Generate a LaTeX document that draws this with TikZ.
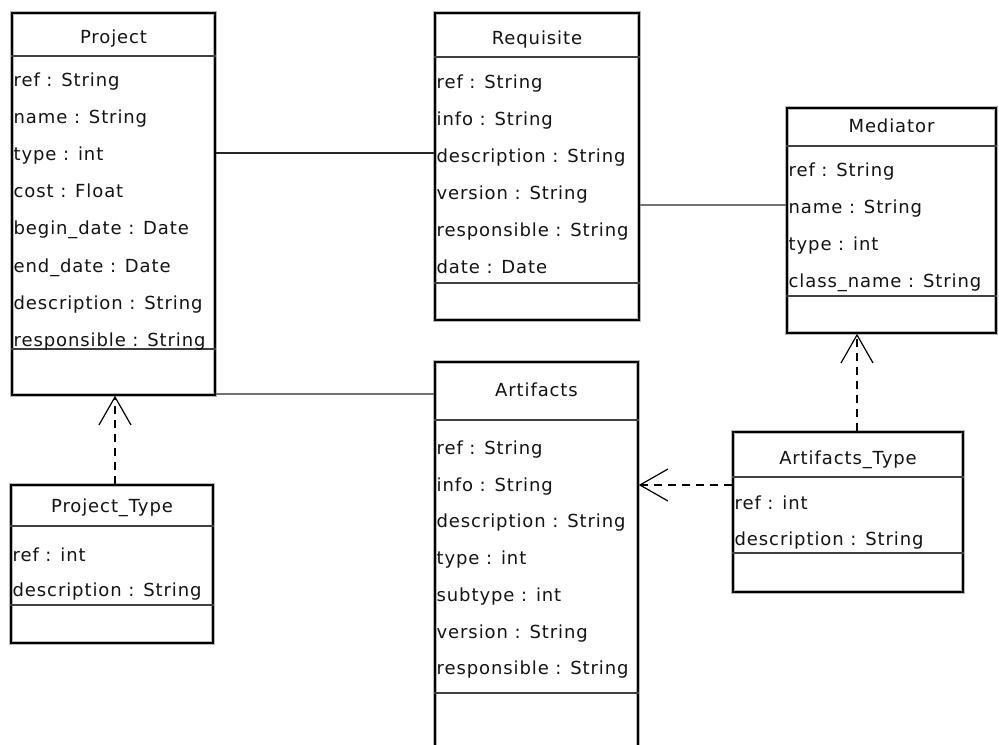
\documentclass[tikz,border=0pt]{standalone}
\usepackage{fontspec}
\newfontfamily\umlfont{DejaVu Sans}[LetterSpace=5]
\usetikzlibrary{arrows.meta,fit}

\definecolor{ink}{rgb}{0.08,0.08,0.08}

\tikzset{
  classbox/.style = {draw=black, line width=1.1pt, inner sep=0pt},
  halo/.style     = {draw=black!28, line width=3.4pt},
  sepline/.style  = {draw=black!75, line width=0.9pt},
  attr/.style     = {anchor=west, inner sep=0pt, text=ink, text height=9.5pt, text depth=2.7pt},
  ctitle/.style   = {anchor=center, inner sep=0pt, text=ink, text height=9.5pt, text depth=2.7pt},
  assoc/.style    = {draw=black!85, line width=1pt},
  dep/.style      = {draw=black, line width=1pt, dash pattern=on 6pt off 4.5pt,
                     -{Straight Barb[length=21pt,width=24pt,line width=0.9pt]}},
}

% frame of one class: halo and outline
\newcommand\classframe[3]{%
  \draw[halo] (#2) rectangle (#3);
  \node[classbox, fit={(#2) (#3)}] (#1) {};
}

\begin{document}
\begin{tikzpicture}[x=0.75pt, y=-0.75pt, font=\umlfont\fontsize{13.5}{16}\selectfont]
\clip (0,0) rectangle (999,744);
\fill[white] (0,0) rectangle (999,744);

% ---------- Project ----------
\classframe{project}{12,13}{215,395}
\node[ctitle] (project-t) at (project.north |- 0,39) {Project};
\draw[sepline] (project.west |- 0,56) -- (project.east |- 0,56);
\draw[sepline] (project.west |- 0,349) -- (project.east |- 0,349);
\foreach \t [count=\i from 0, evaluate=\i as \yy using 82+37.1*\i] in
  {ref : String, name : String, type : int, cost : Float, begin\_date : Date,
   end\_date : Date, description : String, responsible : String}
  \node[attr] (project-a\i) at ([xshift=1.6pt]project.west |- 0,\yy) {\t};

% ---------- Requisite ----------
\classframe{requisite}{435,13}{639,320}
\node[ctitle] (requisite-t) at (requisite.north |- 0,40) {Requisite};
\draw[sepline] (requisite.west |- 0,57) -- (requisite.east |- 0,57);
\draw[sepline] (requisite.west |- 0,283) -- (requisite.east |- 0,283);
\foreach \t [count=\i from 0, evaluate=\i as \yy using 84+37*\i] in
  {ref : String, info : String, description : String, version : String,
   responsible : String, date : Date}
  \node[attr] (requisite-a\i) at ([xshift=1.6pt]requisite.west |- 0,\yy) {\t};

% ---------- Mediator ----------
\classframe{mediator}{787,108}{996,333}
\node[ctitle] (mediator-t) at (mediator.north |- 0,128) {Mediator};
\draw[sepline] (mediator.west |- 0,146) -- (mediator.east |- 0,146);
\draw[sepline] (mediator.west |- 0,296) -- (mediator.east |- 0,296);
\foreach \t [count=\i from 0, evaluate=\i as \yy using 172+37*\i] in
  {ref : String, name : String, type : int, class\_name : String}
  \node[attr] (mediator-a\i) at ([xshift=1.6pt]mediator.west |- 0,\yy) {\t};

% ---------- Artifacts (runs past the lower edge) ----------
\classframe{artifacts}{435,362}{638,790}
\node[ctitle] (artifacts-t) at (artifacts.north |- 0,392) {Artifacts};
\draw[sepline] (artifacts.west |- 0,420) -- (artifacts.east |- 0,420);
\draw[sepline] (artifacts.west |- 0,693) -- (artifacts.east |- 0,693);
\foreach \t [count=\i from 0, evaluate=\i as \yy using 450+36.7*\i] in
  {ref : String, info : String, description : String, type : int,
   subtype : int, version : String, responsible : String}
  \node[attr] (artifacts-a\i) at ([xshift=1.6pt]artifacts.west |- 0,\yy) {\t};

% ---------- Project_Type ----------
\classframe{projecttype}{11,485}{213,643}
\node[ctitle] (projecttype-t) at (projecttype.north |- 0,508) {Project\_Type};
\draw[sepline] (projecttype.west |- 0,526) -- (projecttype.east |- 0,526);
\draw[sepline] (projecttype.west |- 0,605) -- (projecttype.east |- 0,605);
\foreach \t [count=\i from 0, evaluate=\i as \yy using 557+35*\i] in
  {ref : int, description : String}
  \node[attr] (projecttype-a\i) at ([xshift=1.6pt]projecttype.west |- 0,\yy) {\t};

% ---------- Artifacts_Type ----------
\classframe{artifactstype}{733,432}{963,592}
\node[ctitle] (artifactstype-t) at (artifactstype.north |- 0,460) {Artifacts\_Type};
\draw[sepline] (artifactstype.west |- 0,477) -- (artifactstype.east |- 0,477);
\draw[sepline] (artifactstype.west |- 0,553) -- (artifactstype.east |- 0,553);
\foreach \t [count=\i from 0, evaluate=\i as \yy using 505+36*\i] in
  {ref : int, description : String}
  \node[attr] (artifactstype-a\i) at ([xshift=1.6pt]artifactstype.west |- 0,\yy) {\t};

% ---------- associations ----------
\coordinate (yPR) at (0,153);
\coordinate (yRM) at (0,205);
\coordinate (yPA) at (0,394);
\draw[assoc] (project.east |- yPR) -- (requisite.west |- yPR);
\draw[assoc, draw=black!55] (requisite.east |- yRM) -- (mediator.west |- yRM);
\draw[assoc, draw=black!55] (project.east |- yPA) -- (artifacts.west |- yPA);

% ---------- dependencies ----------
\coordinate (xPT) at (115,0);
\coordinate (xAM) at (857,0);
\coordinate (yAA) at (0,485);
\draw[dep] (projecttype.north -| xPT) -- (project.south -| xPT);
\draw[dep] (artifactstype.north -| xAM) -- (mediator.south -| xAM);
\draw[dep] (artifactstype.west |- yAA) -- (artifacts.east |- yAA);
\end{tikzpicture}
\end{document}
